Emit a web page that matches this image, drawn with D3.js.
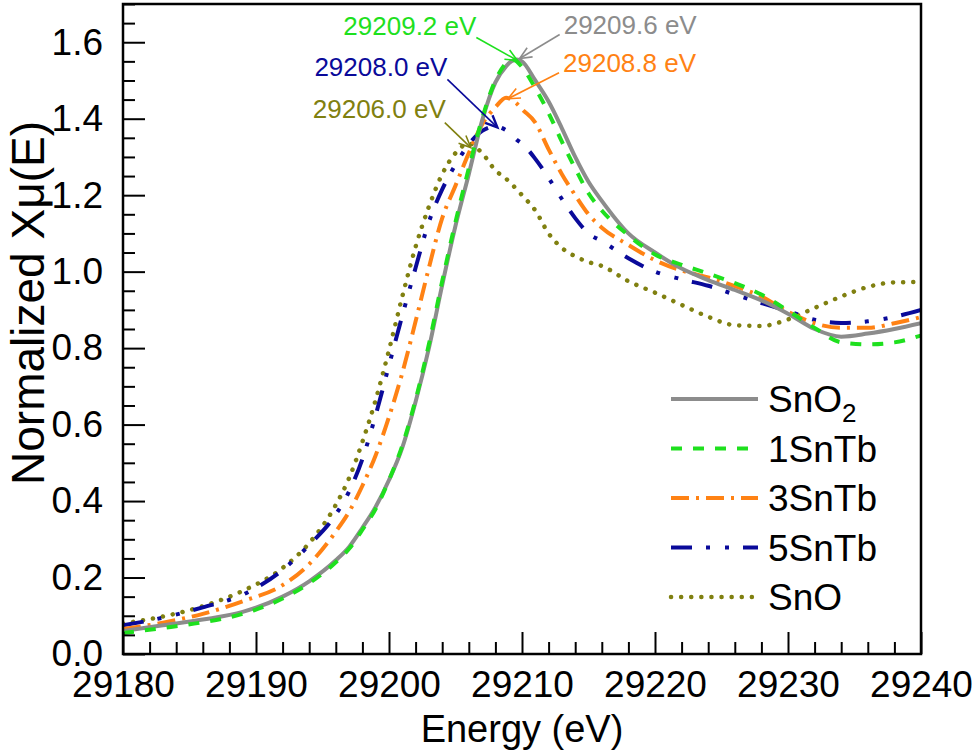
<!DOCTYPE html>
<html>
<head>
<meta charset="utf-8">
<script src="https://cdn.jsdelivr.net/npm/d3@7/dist/d3.min.js"></script>
<style>
  html, body { margin: 0; padding: 0; background: #fff; }
  svg { display: block; font-family: "Liberation Sans", Arial, sans-serif; }
</style>
</head>
<body>
<svg id="chart" width="980" height="755"></svg>
<script>
// ---------------- data ----------------
const energy = [29180, 29183, 29186, 29189, 29192, 29194, 29196, 29197, 29198, 29199,
  29200, 29201, 29202, 29203, 29204, 29205, 29206, 29207, 29208, 29208.8,
  29209.2, 29209.6, 29210, 29211, 29212, 29213, 29214, 29215, 29216, 29218,
  29220, 29222, 29224, 29226, 29228, 29230, 29232, 29234, 29236, 29238, 29240];

const snO2 = [0.060, 0.075, 0.090, 0.110, 0.150, 0.190, 0.245, 0.280, 0.330, 0.385,
  0.455, 0.540, 0.660, 0.800, 0.965, 1.120, 1.255, 1.395, 1.495, 1.537,
  1.550, 1.555, 1.550, 1.500, 1.445, 1.375, 1.300, 1.235, 1.185, 1.100,
  1.050, 1.008, 0.978, 0.952, 0.925, 0.890, 0.850, 0.830, 0.838, 0.850, 0.865];

const tb1 = [0.055, 0.068, 0.083, 0.105, 0.145, 0.185, 0.240, 0.275, 0.325, 0.380,
  0.455, 0.545, 0.665, 0.810, 0.975, 1.130, 1.270, 1.400, 1.500, 1.545,
  1.555, 1.550, 1.535, 1.480, 1.415, 1.340, 1.270, 1.205, 1.160, 1.095,
  1.045, 1.018, 0.995, 0.970, 0.940, 0.898, 0.853, 0.815, 0.810, 0.815, 0.833];

const tb3 = [0.065, 0.082, 0.105, 0.138, 0.180, 0.235, 0.320, 0.372, 0.440, 0.520,
  0.620, 0.735, 0.870, 1.010, 1.140, 1.225, 1.310, 1.385, 1.430, 1.455,
  1.450, 1.440, 1.425, 1.390, 1.320, 1.255, 1.200, 1.150, 1.115, 1.070,
  1.030, 1.003, 0.985, 0.962, 0.935, 0.895, 0.865, 0.853, 0.853, 0.865, 0.881];

const tb5 = [0.075, 0.095, 0.122, 0.155, 0.220, 0.285, 0.365, 0.425, 0.510, 0.625,
  0.755, 0.885, 1.010, 1.130, 1.215, 1.280, 1.333, 1.368, 1.380, 1.370,
  1.360, 1.345, 1.335, 1.295, 1.245, 1.190, 1.140, 1.100, 1.080, 1.035,
  1.000, 0.980, 0.963, 0.940, 0.918, 0.897, 0.874, 0.866, 0.870, 0.882, 0.900];

const snO = [0.080, 0.098, 0.125, 0.165, 0.225, 0.290, 0.390, 0.460, 0.555, 0.665,
  0.795, 0.935, 1.065, 1.170, 1.255, 1.310, 1.335, 1.310, 1.265, 1.243,
  1.230, 1.215, 1.200, 1.160, 1.100, 1.062, 1.040, 1.025, 1.015, 0.975,
  0.945, 0.913, 0.882, 0.860, 0.858, 0.875, 0.905, 0.935, 0.960, 0.972, 0.973];

const seriesNames = ["SnO2", "1SnTb", "3SnTb", "5SnTb", "SnO"];
const seriesValues = [snO2, tb1, tb3, tb5, snO];
const seriesColors = ["#8c8c8c", "#1ee01e", "#ff8214", "#0a0a9a", "#808010"];
const seriesDash = [null, "11,11", "18,7,3,7", "21,14,4,15,4,14", "0.1,10"];
const seriesCap = ["butt", "butt", "butt", "butt", "round"];

const xTicks = [29180, 29190, 29200, 29210, 29220, 29230, 29240];
const yTicks = [0.0, 0.2, 0.4, 0.6, 0.8, 1.0, 1.2, 1.4, 1.6];

// peak annotations: label, energy, series index
const peakLabels = ["29209.2 eV", "29209.6 eV", "29208.8 eV", "29208.0 eV", "29206.0 eV"];
const peakEnergy = [29209.2, 29209.6, 29208.8, 29208.0, 29206.0];
const peakSeries = [1, 0, 2, 3, 4];

// ---------------- layout ----------------
const W = 980, H = 755;
const L = 123, R = 921, T = 4, B = 654;
const svg = d3.select("#chart");

const x = d3.scaleLinear().domain([29180, 29240]).range([L, R]);
const y = d3.scaleLinear().domain([0, 1.7]).range([B, T]);

svg.append("defs").append("clipPath").attr("id", "clip")
  .append("rect").attr("x", L).attr("y", T).attr("width", R - L).attr("height", B - T);

// curves
const line = d3.line().x((d, i) => x(energy[i])).y(d => y(d)).curve(d3.curveMonotoneX);
const gCurves = svg.append("g").attr("clip-path", "url(#clip)");
const order = [4, 3, 2, 0, 1];
order.forEach(k => {
  gCurves.append("path")
    .attr("d", line(seriesValues[k]))
    .attr("fill", "none")
    .attr("stroke", seriesColors[k])
    .attr("stroke-width", k === 4 ? 4.5 : 4)
    .attr("stroke-linecap", seriesCap[k])
    .attr("stroke-linejoin", "round")
    .attr("stroke-dasharray", seriesDash[k]);
});

// axes
const fontSize = 37;
const xMinor = d3.range(29180, 29241, 2).filter(v => !xTicks.includes(v));
const yMinor = d3.range(0, 1.701, 0.05).map(v => +v.toFixed(2)).filter(v => !yTicks.some(t => Math.abs(t - v) < 1e-6));

const gx = svg.append("g").attr("transform", `translate(0,${B})`)
  .call(d3.axisBottom(x).tickValues(xTicks).tickSize(-22).tickPadding(17).tickFormat(d3.format("d")));
const gxm = svg.append("g").attr("transform", `translate(0,${B})`)
  .call(d3.axisBottom(x).tickValues(xMinor).tickSize(-12).tickFormat(""));
const gy = svg.append("g").attr("transform", `translate(${L},0)`)
  .call(d3.axisLeft(y).tickValues(yTicks).tickSize(-22).tickPadding(20).tickFormat(d3.format(".1f")));
const gym = svg.append("g").attr("transform", `translate(${L},0)`)
  .call(d3.axisLeft(y).tickValues(yMinor).tickSize(-12).tickFormat(""));

[gx, gxm, gy, gym].forEach(g => {
  g.select(".domain").remove();
  g.selectAll(".tick line").attr("stroke", "#000").attr("stroke-width", 2);
  g.selectAll(".tick text").attr("fill", "#000").style("font-size", fontSize + "px")
    .style("font-family", '"Liberation Sans", Arial, sans-serif');
});

// frame
svg.append("rect").attr("x", L).attr("y", T).attr("width", R - L).attr("height", B - T)
  .attr("fill", "none").attr("stroke", "#000").attr("stroke-width", 2.5);

// axis titles
svg.append("text").attr("x", (L + R) / 2).attr("y", 742).attr("text-anchor", "middle")
  .style("font-size", "38px").text("Energy (eV)");
svg.append("text").attr("transform", `translate(44,303) rotate(-90)`)
  .attr("text-anchor", "middle").style("font-size", "46px").text("Normalized Xμ(E)");

// legend
const legX0 = 671, legX1 = 758, legText = 768, legY0 = 399, legStep = 49.5;
seriesNames.forEach((name, k) => {
  const yy = legY0 + k * legStep;
  svg.append("line").attr("x1", legX0).attr("x2", legX1).attr("y1", yy).attr("y2", yy)
    .attr("stroke", seriesColors[k]).attr("stroke-width", k === 4 ? 4.5 : 4)
    .attr("stroke-linecap", seriesCap[k])
    .attr("stroke-dasharray", seriesDash[k]);
  const t = svg.append("text").attr("x", legText).attr("y", yy + 13).style("font-size", "37px");
  if (name === "SnO2") {
    t.append("tspan").text("SnO");
    t.append("tspan").attr("dy", 10).style("font-size", "26px").text("2");
  } else {
    t.text(name);
  }
});

// annotations
const annoStart = [[-41, -23], [40, -24], [51, -26], [-50, -48], [-26, -25]];
const annoAnchor = ["end", "start", "start", "end", "end"];
const annoTextOff = [[0, -2], [4, 0], [4, -1], [0, -3], [1, -5]];
const annoTipOff = [[6, 1], [3, -1], [2, 1], [2, 1], [2, 4]];
function valueAt(vals, e) {
  const i = d3.bisectLeft(energy, e);
  if (energy[i] === e) return vals[i];
  const t = (e - energy[i - 1]) / (energy[i] - energy[i - 1]);
  return vals[i - 1] + t * (vals[i] - vals[i - 1]);
}
peakLabels.forEach((lab, k) => {
  const s = peakSeries[k];
  const col = seriesColors[s];
  const tx = x(peakEnergy[k]) + annoTipOff[k][0];
  const ty = y(valueAt(seriesValues[s], peakEnergy[k])) + annoTipOff[k][1];
  const sx = tx + annoStart[k][0], sy = ty + annoStart[k][1];
  const g = svg.append("g");
  g.append("line").attr("x1", sx).attr("y1", sy).attr("x2", tx).attr("y2", ty)
    .attr("stroke", col).attr("stroke-width", 1.6);
  const ang = Math.atan2(ty - sy, tx - sx);
  const hl = 13, ha = 0.42;
  const p = [
    [tx - hl * Math.cos(ang - ha), ty - hl * Math.sin(ang - ha)],
    [tx, ty],
    [tx - hl * Math.cos(ang + ha), ty - hl * Math.sin(ang + ha)]
  ];
  g.append("path").attr("d", d3.line()(p)).attr("fill", "none")
    .attr("stroke", col).attr("stroke-width", s === 3 ? 2.4 : 1.6);
  g.append("text").attr("x", sx + annoTextOff[k][0]).attr("y", sy + annoTextOff[k][1])
    .attr("text-anchor", annoAnchor[k]).attr("fill", col)
    .style("font-size", "26px").text(lab);
});
</script>
</body>
</html>
